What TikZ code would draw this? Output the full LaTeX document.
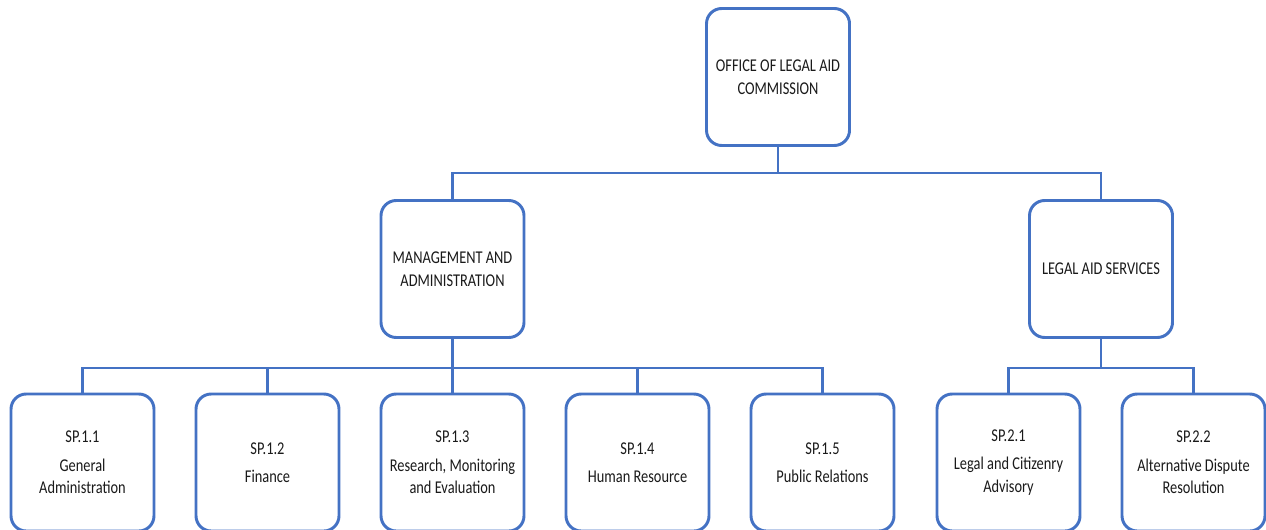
\documentclass[tikz,border=0pt]{standalone}
\usepackage{fontspec}
\setmainfont{Carlito}[FakeStretch=0.8]
\usetikzlibrary{positioning}
\definecolor{orgblue}{HTML}{4472C4}
\definecolor{orgtext}{HTML}{1A1A1A}
\tikzset{
    unit/.style={ % Sets the properties for each box
        draw=orgblue,
        line width=2.1pt,
        rounded corners=0.38cm,
        fill=white,
        text=orgtext,
        align=center,
        minimum width=3.575cm,
        minimum height=3.425cm,
        font=\fontsize{12.8}{16}\selectfont
    },
    link/.style={ % Sets the properties for each connector
        draw=orgblue,
        line width=2.1pt
    }
}
\begin{document}
\begin{tikzpicture}[node distance=4.625cm]
            \clip (0,0) rectangle (31.65,-13.225);
            % erste ebene
            \node[unit] at (19.45,-1.925)       (office)    {OFFICE OF LEGAL AID\\COMMISSION};
            % zweite ebene
            \node[unit] at (11.3125,-6.725)     (mgmt)      {MANAGEMENT AND\\ADMINISTRATION};
            \node[unit] at (27.525,-6.725)      (services)  {LEGAL AID SERVICES};
            % dritte ebene
            \node[unit, below of=mgmt, node distance=4.8375cm]
                                                (sp13)      {SP.1.3\\[4pt]Research, Monitoring\\and Evaluation};
            \node[unit, left of=sp13]           (sp12)      {SP.1.2\\[4pt]Finance};
            \node[unit, left of=sp12]           (sp11)      {SP.1.1\\[4pt]General\\Administration};
            \node[unit, right of=sp13]          (sp14)      {SP.1.4\\[4pt]Human Resource};
            \node[unit, right of=sp14]          (sp15)      {SP.1.5\\[4pt]Public Relations};
            \node[unit, below of=services, node distance=4.8375cm, xshift=-2.3125cm]
                                                (sp21)      {SP.2.1\\[4pt]Legal and Citizenry\\Advisory};
            \node[unit, right of=sp21]          (sp22)      {SP.2.2\\[4pt]Alternative Dispute\\Resolution};

            % verbindungen
            \draw[link] (office.south) -- ++(0,-0.65) coordinate (j1);
            \draw[link] (j1) -| (mgmt.north);
            \draw[link] (j1) -| (services.north);
            \draw[link] (mgmt.south) -- ++(0,-0.725) coordinate (j2);
            \foreach \n in {sp11,sp12,sp13,sp14,sp15}
                \draw[link] (j2) -| (\n.north);
            \draw[link] (services.south) -- ++(0,-0.725) coordinate (j3);
            \foreach \n in {sp21,sp22}
                \draw[link] (j3) -| (\n.north);
        \end{tikzpicture}
\end{document}
